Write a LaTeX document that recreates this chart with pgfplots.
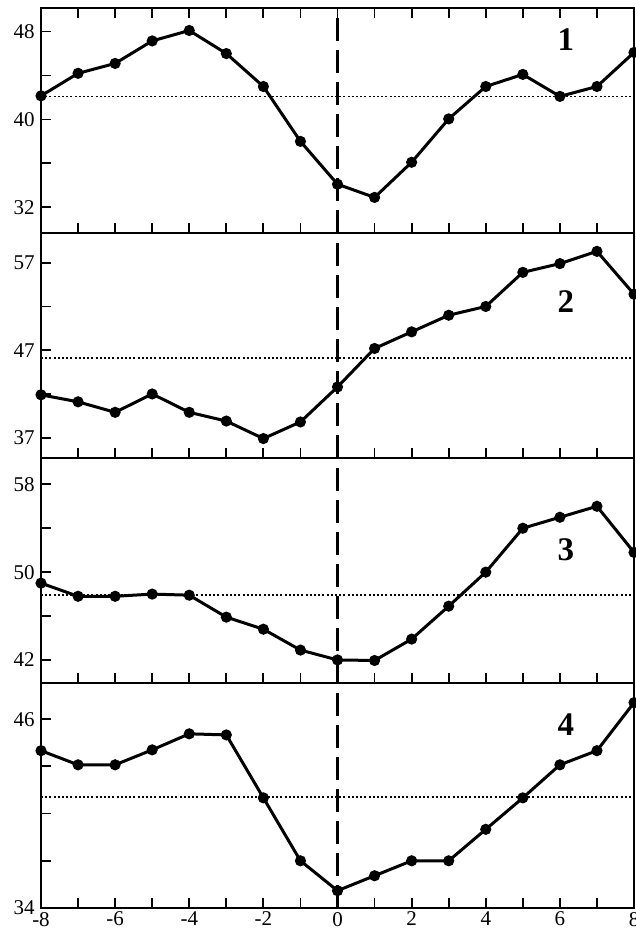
\documentclass[border=0pt]{standalone}
\usepackage{fontspec}
\setmainfont{Liberation Serif}
\usepackage{pgfplots}
\pgfplotsset{compat=1.18}
\tikzset{numlabel/.style={font=\bfseries\fontsize{16.5pt}{17pt}\selectfont}}
\pgfplotsset{
  panel/.style={
    scale only axis, width=296.5pt, height=112.5pt,
    xmin=-8, xmax=8,
    xtick={-8,-6,...,8}, minor xtick={-7,-5,...,7},
    xticklabels={},
    tick align=inside, major tick length=5pt, minor tick length=5pt,
    xtick pos=bottom, ytick pos=left,
    axis line style={line width=1pt},
    every tick/.style={black, line width=0.9pt},
    /pgf/number format/assume math mode=true,
    yticklabel style={font=\fontsize{10.5pt}{11pt}\selectfont, xshift=0.3pt},
    xticklabel style={font=\fontsize{10.5pt}{11pt}\selectfont, yshift=1.5pt},
    anchor=north west,
    clip=false,
  },
  dataline/.style={black, line width=1.5pt, mark=*, mark size=2pt, mark options={solid}},
  refline/.style={black, line width=0.7pt, dash pattern=on 1pt off 1.1pt},
  zeroline/.style={black, line width=1.1pt, dash pattern=on 11.5pt off 4.5pt},
}
\begin{document}
\begin{tikzpicture}
\useasboundingbox (0,0) rectangle (318pt,465pt);
% Panel 1
\begin{axis}[panel, at={(20.5pt,461pt)}, xtick pos=both,
  ymin=29.66, ymax=50.15, ytick={32,40,48}, minor ytick={36,44}]
\addplot[refline] coordinates {(-8,42.1) (8,42.1)};
\addplot[zeroline] coordinates {(0,29.66) (0,50.15)};
\addplot[dataline] coordinates {(-8,42.15) (-7,44.2) (-6,45.1) (-5,47.15) (-4,48.1) (-3,46.0) (-2,43.0) (-1,38.0) (0,34.1) (1,32.9) (2,36.1) (3,40.05) (4,43.0) (5,44.1) (6,42.1) (7,43.0) (8,46.1)};
\node[numlabel] at (rel axis cs:0.885,0.858) {1};
\end{axis}
% Panel 2
\begin{axis}[panel, at={(20.5pt,348.5pt)},
  ymin=34.68, ymax=60.4, ytick={37,47,57}, minor ytick={42,52}]
\addplot[refline] coordinates {(-8,46.1) (8,46.1)};
\addplot[zeroline] coordinates {(0,34.68) (0,60.4)};
\addplot[dataline] coordinates {(-8,41.9) (-7,41.1) (-6,39.9) (-5,42.0) (-4,39.9) (-3,38.9) (-2,36.9) (-1,38.8) (0,42.8) (1,47.2) (2,49.1) (3,51.0) (4,52.0) (5,55.9) (6,56.9) (7,58.3) (8,53.4)};
\node[numlabel] at (rel axis cs:0.885,0.693) {2};
\end{axis}
% Panel 3
\begin{axis}[panel, at={(20.5pt,236pt)},
  ymin=39.9, ymax=60.4, ytick={42,50,58}, minor ytick={46,54}]
\addplot[refline] coordinates {(-8,47.9) (8,47.9)};
\addplot[zeroline] coordinates {(0,39.9) (0,60.4)};
\addplot[dataline] coordinates {(-8,49.0) (-7,47.8) (-6,47.8) (-5,48.0) (-4,47.9) (-3,45.9) (-2,44.8) (-1,42.9) (0,42.0) (1,41.95) (2,43.9) (3,46.9) (4,50.0) (5,54.0) (6,55.0) (7,56.0) (8,51.8)};
\node[numlabel] at (rel axis cs:0.885,0.591) {3};
\end{axis}
% Panel 4
\begin{axis}[panel, at={(20.5pt,123.5pt)},
  ymin=34, ymax=48.3, ytick={34,46}, minor ytick={37,40,43},
  xticklabels={-8,-6,-4,-2,0,2,4,6,8}]
\addplot[refline] coordinates {(-8,41.05) (8,41.05)};
\addplot[zeroline] coordinates {(0,34) (0,48.3)};
\addplot[dataline] coordinates {(-8,44.0) (-7,43.1) (-6,43.1) (-5,44.05) (-4,45.07) (-3,45.0) (-2,41.0) (-1,37.0) (0,35.1) (1,36.05) (2,37.0) (3,37.0) (4,39.0) (5,41.0) (6,43.1) (7,44.0) (8,47.05)};
\node[numlabel] at (rel axis cs:0.885,0.813) {4};
\end{axis}
\end{tikzpicture}
\end{document}
